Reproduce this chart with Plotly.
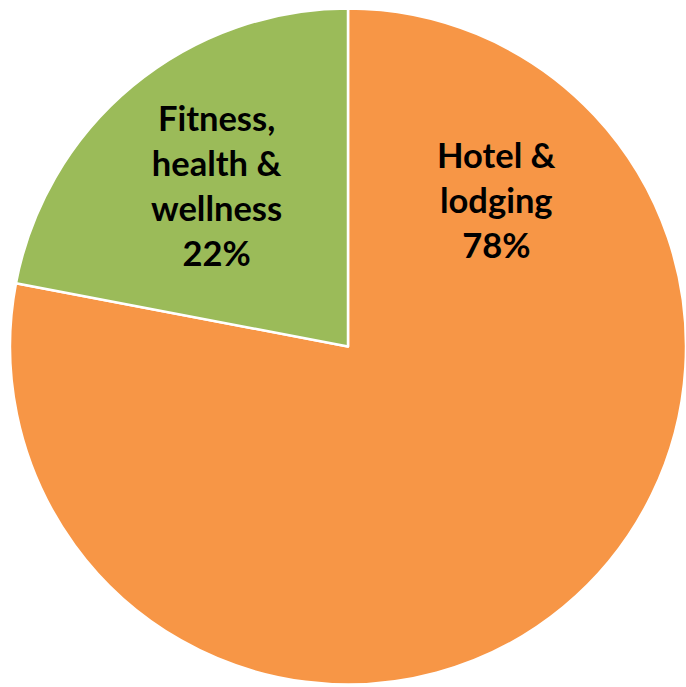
import plotly.graph_objects as go

# Share of spend by category
categories = ["Hotel & lodging", "Fitness, health & wellness"]
display_lines = [["Hotel &", "lodging"], ["Fitness,", "health &", "wellness"]]
values = [78, 22]
colors = ["#F79646", "#9BBB59"]

W, H = 686, 687
ML, MR, MT, MB = 10, 0, 6, 0

fig = go.Figure(
    go.Pie(
        labels=categories,
        values=values,
        sort=False,
        direction="clockwise",
        rotation=0,
        textinfo="none",
        hoverinfo="label+percent",
        marker=dict(colors=colors, line=dict(color="white", width=2.5)),
        showlegend=False,
    )
)

# Label centres in pixel coordinates of the page
label_px = [(496, 199), (216, 185)]
total = sum(values)
pw, ph = W - ML - MR, H - MT - MB
for lines, v, (px, py) in zip(display_lines, values, label_px):
    pct = round(100 * v / total)
    fig.add_annotation(
        text="<br>".join(lines + [f"{pct}%"]),
        x=(px - ML) / pw,
        y=1 - (py - MT) / ph,
        xref="paper",
        yref="paper",
        xanchor="center",
        yanchor="middle",
        showarrow=False,
        font=dict(family="Lato", size=34.5, color="black", weight="bold"),
    )

fig.update_layout(
    width=W,
    height=H,
    margin=dict(l=ML, r=MR, t=MT, b=MB),
    paper_bgcolor="white",
    plot_bgcolor="white",
)

fig.write_html("out.html")
